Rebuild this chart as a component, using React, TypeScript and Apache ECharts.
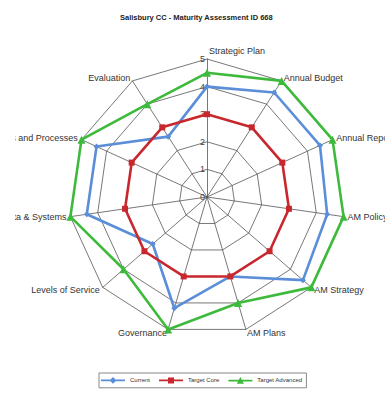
import React, { useEffect, useRef } from "react";
import * as echarts from "echarts";

// Spokes in clockwise order, starting at the top
const categories = [
  "Strategic Plan",
  "Annual Budget",
  "Annual Report",
  "AM Policy",
  "AM Strategy",
  "AM Plans",
  "Governance",
  "Levels of Service",
  "Data & Systems",
  "Policies and Processes",
  "Evaluation",
];

const seriesNames = ["Current", "Target Core", "Target Advanced"];

const current = [4, 4.5, 4.5, 4.4, 4.6, 3, 4.2, 2.6, 4.4, 4.4, 2.6];
const targetCore = [3, 3, 3, 3, 3, 3, 3, 3, 3, 3, 3];
const targetAdvanced = [4.5, 5, 5, 5, 5, 4, 5, 4, 5, 5, 4];

const scaleMax = 5;

const colors = ["#5B8ED8", "#C8272D", "#3DBA3C"];
const symbols = ["diamond", "rect", "triangle"];

// Legend glyphs: a short line with the series marker in the middle
const legendIcons = [
  "path://M0,3.2H24V4.8H0Z M12,0.6L15.4,4L12,7.4L8.6,4Z",
  "path://M0,3.2H24V4.8H0Z M9,1H15V7H9Z",
  "path://M0,3.2H24V4.8H0Z M12,0.4L15.6,7.2H8.4Z",
];

// ECharts lays radar indicators out anticlockwise, so keep the first spoke
// at the top and reverse the rest to read clockwise.
const order = [0, ...categories.map((_, i) => i).slice(1).reverse()];
const reorder = (arr: number[]) => order.map((i) => arr[i]);

const FONT = "Liberation Sans, Arial, sans-serif";

export default function App() {
  const ref = useRef<HTMLDivElement>(null);

  useEffect(() => {
    if (!ref.current) return;
    const chart = echarts.init(ref.current, null, { renderer: "svg" });
    const allSeries = [current, targetCore, targetAdvanced];

    chart.setOption({
      animation: false,
      backgroundColor: "#ffffff",
      title: {
        text: "Salisbury CC - Maturity Assessment ID 668",
        left: 100,
        top: 8,
        textStyle: {
          fontFamily: FONT,
          fontSize: 7.5,
          fontWeight: "bold",
          color: "#222",
        },
      },
      legend: {
        data: seriesNames.map((n, i) => ({ name: n, icon: legendIcons[i] })),
        left: 84,
        top: 373,
        itemWidth: 24,
        itemGap: 9,
        itemHeight: 8,
        padding: [4, 4, 4, 2],
        borderColor: "#888",
        borderWidth: 1,
        textStyle: {
          fontFamily: FONT,
          fontSize: 6,
          color: "#333",
        },
      },
      radar: {
        center: [192, 197],
        radius: 138,
        startAngle: 90,
        shape: "polygon",
        splitNumber: 5,
        nameGap: 4,
        axisName: {
          fontFamily: FONT,
          fontSize: 9,
          color: "#333",
          formatter: (name: string) =>
            name === categories[0] ? `{top|${name}}` : name,
          rich: {
            top: {
              fontFamily: FONT,
              fontSize: 9,
              color: "#333",
              padding: [0, 0, 0, 60],
            },
          },
        },
        axisLine: { lineStyle: { color: "#555", width: 0.8 } },
        splitLine: { lineStyle: { color: "#555", width: 0.8 } },
        splitArea: { show: false },
        axisLabel: { show: false },
        indicator: order.map((i) => ({
          name: categories[i],
          min: 0,
          max: scaleMax,
          ...(i === 0
            ? {
                axisLabel: {
                  show: true,
                  fontFamily: FONT,
                  fontSize: 9,
                  color: "#444",
                  margin: 2,
                  padding: [9, 0, 0, 0],
                },
              }
            : {}),
        })),
      },
      series: [
        {
          type: "radar",
          data: allSeries.map((vals, k) => ({
            name: seriesNames[k],
            value: reorder(vals),
            symbol: symbols[k],
            symbolSize: k === 2 ? 8 : 6,
            itemStyle: { color: colors[k] },
            lineStyle: { color: colors[k], width: 2.6 },
          })),
        },
      ],
    });

    return () => chart.dispose();
  }, []);

  return (
    <div
      ref={ref}
      style={{ position: "fixed", left: 15, top: 0, width: 370, height: 396 }}
    />
  );
}
